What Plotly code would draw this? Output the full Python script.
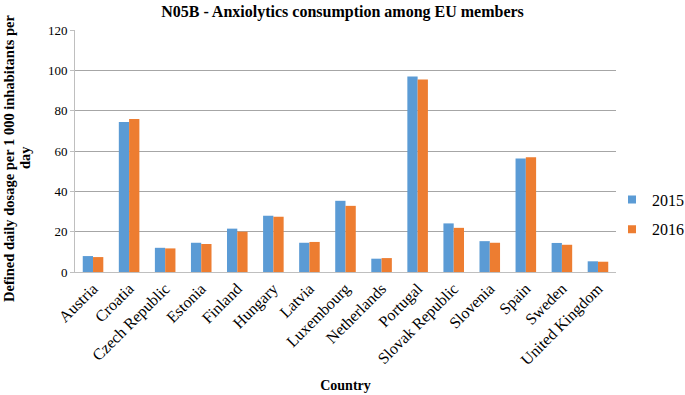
import plotly.graph_objects as go

countries = ["Austria", "Croatia", "Czech Republic", "Estonia", "Finland", "Hungary",
             "Latvia", "Luxembourg", "Netherlands", "Portugal", "Slovak Republic",
             "Slovenia", "Spain", "Sweden", "United Kingdom"]
values_2015 = [7.9, 74.4, 12.0, 14.5, 21.5, 27.9, 14.5, 35.3, 6.6, 97.0, 24.1, 15.3, 56.3, 14.4, 5.3]
values_2016 = [7.4, 75.9, 11.7, 13.9, 20.0, 27.4, 14.9, 32.8, 6.9, 95.4, 21.9, 14.5, 56.9, 13.5, 5.1]
series_names = ["2015", "2016"]
series_colors = ["#5B9BD5", "#ED7D31"]
y_ticks = [0, 20, 40, 60, 80, 100, 120]

FONT = "Liberation Serif"

fig = go.Figure()
for name, vals, col, grp in zip(series_names, [values_2015, values_2016], series_colors, ["a", "b"]):
    fig.add_trace(go.Bar(name=name, x=countries, y=vals, marker_color=col,
                         marker_line_width=0, legendgroup=grp, showlegend=False))
    # legend entry with a small square swatch
    fig.add_trace(go.Scatter(name=name, x=[None], y=[None], mode="markers",
                             marker=dict(symbol="square", size=8, color=col),
                             legendgroup=grp, showlegend=True))

fig.update_layout(
    width=685, height=395,
    margin=dict(l=75, r=69, t=30, b=123, autoexpand=False),
    paper_bgcolor="white", plot_bgcolor="white",
    font=dict(family=FONT, size=13, color="black"),
    barmode="group", bargap=0.43, bargroupgap=0,
    title=dict(text="<b>N05B - Anxiolytics consumption among EU members</b>",
               x=0.5, xanchor="center", y=0.97, yanchor="middle",
               font=dict(family=FONT, size=16, color="black")),
    legend=dict(x=(612 - 75) / 541, y=0.2376, xanchor="left", yanchor="middle",
                font=dict(family=FONT, size=16), bgcolor="rgba(0,0,0,0)",
                itemwidth=30, traceorder="grouped", tracegroupgap=6),
    xaxis=dict(tickangle=-45, tickfont=dict(family=FONT, size=16),
               showline=True, linecolor="#BFBFBF", linewidth=1,
               title=dict(text="<b>Country</b>", font=dict(family=FONT, size=14),
                          standoff=12),
               automargin=False),
    yaxis=dict(range=[0, 120], tickvals=y_ticks, tickfont=dict(family=FONT, size=13),
               showgrid=True, gridcolor="#A6A6A6", gridwidth=1,
               showline=True, linecolor="#BFBFBF", linewidth=1,
               ticks="outside", ticklen=4, tickcolor="#BFBFBF",
               zeroline=False, automargin=False),
    annotations=[
        dict(text="<b>Defined daily dosage per 1 000 inhabitants per</b>",
             xref="paper", yref="paper", x=0, y=0.5, xanchor="center", yanchor="middle",
             xshift=-66, yshift=-7, textangle=-90, showarrow=False,
             font=dict(family=FONT, size=14.5, color="black")),
        dict(text="<b>day</b>",
             xref="paper", yref="paper", x=0, y=0.5, xanchor="center", yanchor="middle",
             xshift=-50, yshift=-7, textangle=-90, showarrow=False,
             font=dict(family=FONT, size=14.5, color="black")),
    ],
)

fig.write_html("out.html", config={"displayModeBar": False},
               post_script="document.body.style.margin='0';")
